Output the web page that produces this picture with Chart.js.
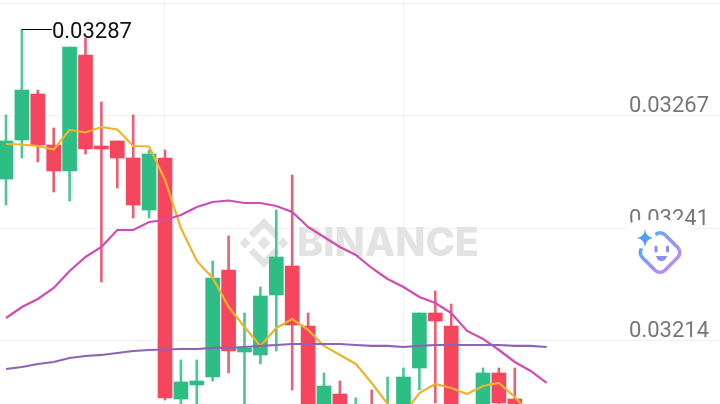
<!DOCTYPE html>
<html><head><meta charset="utf-8">
<style>html,body{margin:0;padding:0;background:#fff;overflow:hidden}canvas{display:block}</style>
<script src="https://cdn.jsdelivr.net/npm/chart.js@4"></script>
</head><body><canvas id="c" width="720" height="404"></canvas>
<script>
const opens=[0.0325265,0.0326184,0.0327268,0.0326066,0.0325454,0.0328186,0.0326043,0.0326161,0.0325760,0.0324535,0.0325760,0.0320083,0.0320413,0.0320601,0.0323122,0.0321190,0.0321120,0.0322533,0.0323216,0.0321803,0.0319471,0.0320201,0.0319117,0.0319871,0.0319117,0.0319588,0.0320813,0.0322109,0.0321803,0.0319706,0.0319588,0.0320696,0.0320083];
const closes=[0.0326161,0.0327362,0.0326066,0.0325454,0.0328375,0.0325972,0.0325972,0.0325760,0.0324653,0.0325854,0.0320107,0.0320484,0.0320507,0.0322933,0.0321214,0.0321285,0.0322509,0.0323428,0.0321826,0.0319588,0.0320389,0.0319353,0.0319824,0.0319353,0.0319824,0.0320601,0.0322109,0.0321921,0.0319588,0.0319353,0.0320696,0.0319989,0.0319588];
const highs=[0.0326773,0.0328799,0.0327362,0.0326467,0.0328375,0.0328587,0.0327079,0.0326161,0.0326773,0.0325949,0.0325949,0.0321002,0.0321002,0.0323334,0.0323923,0.0322109,0.0322721,0.0324535,0.0325360,0.0322109,0.0320696,0.0320507,0.0320107,0.0320295,0.0320601,0.0320813,0.0322109,0.0322627,0.0322321,0.0319871,0.0320813,0.0320813,0.0320813];
const lows=[0.0324653,0.0325760,0.0325666,0.0324959,0.0324747,0.0325854,0.0322839,0.0325053,0.0324347,0.0324347,0.0320060,0.0319777,0.0319777,0.0320507,0.0320696,0.0319824,0.0320908,0.0321214,0.0320295,0.0319353,0.0319306,0.0319212,0.0319000,0.0319212,0.0318882,0.0319353,0.0320295,0.0319989,0.0319471,0.0319235,0.0319353,0.0319824,0.0319471];
const maYellow=[0.0326090,0.0326078,0.0326043,0.0325960,0.0326420,0.0326361,0.0326490,0.0326431,0.0326043,0.0326031,0.0325242,0.0324111,0.0323334,0.0322933,0.0322250,0.0321779,0.0321332,0.0321756,0.0321968,0.0321709,0.0321332,0.0321120,0.0320908,0.0320460,0.0319965,0.0319730,0.0320224,0.0320436,0.0320342,0.0320201,0.0320389,0.0320460,0.0320130,0.0319706];
const maPink=[0.0321991,0.0322250,0.0322439,0.0322698,0.0323098,0.0323428,0.0323664,0.0324064,0.0324064,0.0324253,0.0324300,0.0324417,0.0324606,0.0324724,0.0324759,0.0324700,0.0324700,0.0324629,0.0324488,0.0324135,0.0323899,0.0323664,0.0323475,0.0323169,0.0322910,0.0322721,0.0322486,0.0322345,0.0322109,0.0321685,0.0321497,0.0321237,0.0320955,0.0320743,0.0320460];
const maPurple=[0.0320790,0.0320837,0.0320908,0.0320955,0.0321049,0.0321096,0.0321120,0.0321167,0.0321214,0.0321237,0.0321249,0.0321261,0.0321261,0.0321285,0.0321285,0.0321308,0.0321332,0.0321355,0.0321379,0.0321379,0.0321379,0.0321379,0.0321355,0.0321332,0.0321332,0.0321308,0.0321332,0.0321355,0.0321355,0.0321355,0.0321355,0.0321355,0.0321332,0.0321332,0.0321308];
const yTickValues=[0.03294,0.032675,0.032409,0.032145];
const yTickLabels=['','0.03267','0.03241','0.03214'];
const xGridValues=[10,25];
const highLabel='0.03287';
const highIndex=1;
const watermark='BINANCE';

const GREEN='#2EBD85',RED='#F6465D';
const GREEN_W='rgba(46,189,133,.85)',RED_W='rgba(226,70,95,.85)';
const up=closes.map((c,i)=>c>=opens[i]);
const toPts=a=>a.map((y,x)=>({x,y}));
const FONT='Inter, "Liberation Sans", sans-serif';
const NUMFONT='Roboto, "Liberation Sans", sans-serif';
const noPad=s=>{s.paddingTop=s.paddingBottom=s.paddingLeft=s.paddingRight=0;};

const decor={
  id:'decor',
  beforeDatasetsDraw(ch){
    const c=ch.ctx;c.save();
    c.fillStyle='#e3e3e3';
    c.font='800 39.5px '+FONT;c.textBaseline='alphabetic';c.textAlign='left';
    c.fillText(watermark,297,256);
    c.translate(264,243);
    const poly=p=>{c.beginPath();p.forEach((q,i)=>i?c.lineTo(q[0],q[1]):c.moveTo(q[0],q[1]));c.closePath();c.fill();};
    const dia=(x,y,r)=>poly([[x,y-r],[x+r,y],[x,y+r],[x-r,y]]);
    dia(0,0,6.5);dia(-19,0,5.5);dia(19,0,5.5);
    poly([[0,-25],[15.5,-9.5],[10.5,-5],[0,-15.5],[-10.5,-5],[-15.5,-9.5]]);
    poly([[0,25],[15.5,9.5],[10.5,5],[0,15.5],[-10.5,5],[-15.5,9.5]]);
    c.restore();
  },
  afterDraw(ch){
    const c=ch.ctx,xs=ch.scales.x,ys=ch.scales.y;
    const hx=xs.getPixelForValue(highIndex),hy=Math.round(ys.getPixelForValue(highs[highIndex]))+.5;
    c.save();
    c.strokeStyle='#000';c.lineWidth=1;c.beginPath();c.moveTo(hx,hy);c.lineTo(hx+30,hy);c.stroke();
    c.fillStyle='#111';c.font='400 22px '+NUMFONT;c.textBaseline='middle';c.textAlign='left';
    c.fillText(highLabel,hx+30,hy+3);
    c.fillStyle='#fff';c.beginPath();c.roundRect(626,220,68,66,14);c.fill();
    c.save();c.translate(660,252.5);c.rotate(Math.PI/4);
    const h=c.createLinearGradient(-16,0,16,0);h.addColorStop(0,'#62a6f8');h.addColorStop(1,'#b98df0');
    c.strokeStyle=h;c.lineWidth=3.6;
    c.beginPath();c.roundRect(-16,-16,32,32,7);c.stroke();
    c.restore();
    c.fillStyle='#fff';c.beginPath();c.arc(645,238,11,0,7);c.fill();
    c.fillStyle='#4f9ff8';c.beginPath();
    c.moveTo(645,229);c.quadraticCurveTo(646,237,653,238);c.quadraticCurveTo(646,239,645,247);c.quadraticCurveTo(644,239,637,238);c.quadraticCurveTo(644,237,645,229);c.fill();
    c.fillStyle='#8a90f0';
    c.beginPath();c.roundRect(654.5,245.5,3,7,1.5);c.fill();
    c.beginPath();c.roundRect(666,245.5,3,7,1.5);c.fill();
    c.beginPath();c.moveTo(656,256);c.lineTo(667,256);c.quadraticCurveTo(666,261,661.5,261);c.quadraticCurveTo(657,261,656,256);c.fill();
    c.restore();
  }
};

new Chart(document.getElementById('c'),{
  data:{datasets:[
    {type:'line',data:toPts(maPurple),borderColor:'#8D63B8',borderWidth:2.2,pointRadius:0,tension:0,order:1},
    {type:'line',data:toPts(maPink),borderColor:'#D24BB4',borderWidth:2.2,pointRadius:0,tension:0,order:1},
    {type:'line',data:toPts(maYellow),borderColor:'#EEB42A',borderWidth:2.2,pointRadius:0,tension:0,order:1},
    {type:'bar',data:opens.map((o,i)=>({x:i,y:[o,closes[i]]})),backgroundColor:up.map(u=>u?GREEN:RED),barThickness:14,grouped:false,order:2},
    {type:'bar',data:lows.map((l,i)=>({x:i,y:[l,highs[i]]})),backgroundColor:up.map(u=>u?GREEN_W:RED_W),barThickness:2,grouped:false,order:3}
  ]},
  options:{
    responsive:false,animation:false,
    layout:{padding:0},
    plugins:{legend:{display:false},tooltip:{enabled:false},decor:{}},
    scales:{
      x:{type:'linear',min:-0.377,max:44.906,offset:false,
        afterBuildTicks(s){s.ticks=xGridValues.map(v=>({value:v}));},
        afterFit:noPad,
        grid:{color:'#f1f2f3',drawTicks:false,offset:false},border:{display:false},ticks:{display:false}},
      y:{type:'linear',position:'right',min:0.03199650,max:0.03294820,
        afterBuildTicks(s){s.ticks=yTickValues.map(v=>({value:v}));},
        afterFit(s){noPad(s);s.width=0;},
        grid:{color:'#f0f1f2',drawTicks:false},border:{display:false},
        ticks:{mirror:true,padding:-11,labelOffset:-9,autoSkip:false,color:'#777',
          font:{family:NUMFONT,size:22,weight:'400'},
          callback:(v,i)=>yTickLabels[i]}}
    }
  },
  plugins:[decor]
});
</script></body></html>
